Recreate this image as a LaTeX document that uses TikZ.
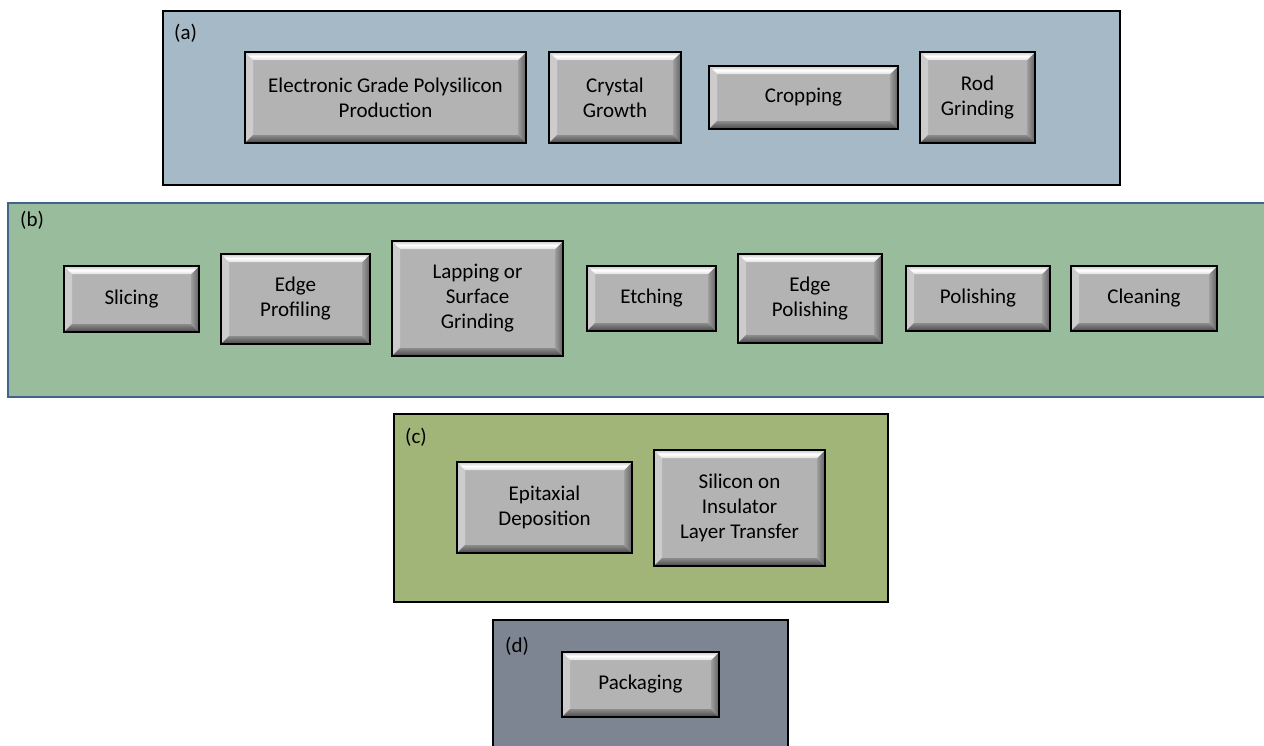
\documentclass[tikz,border=0pt]{standalone}
\usepackage{fontspec}
\setmainfont{Carlito}
\usetikzlibrary{calc}
\definecolor{boxA}{HTML}{A6B9C6}
\definecolor{boxB}{HTML}{99BD9C}
\definecolor{boxC}{HTML}{A1B579}
\definecolor{boxD}{HTML}{7C8591}
\definecolor{bordB}{HTML}{41648F}
\definecolor{btnface}{HTML}{B3B3B3}
\newcommand{\bv}{8}
\tikzset{
  panel/.style={draw=black, line width=2pt},
  plabel/.style={anchor=west, inner sep=0pt, font=\fontsize{21}{25}\selectfont},
  btn/.style={draw=black, line width=2.6pt, fill=btnface, align=center, inner sep=0pt,
    font=\fontsize{21}{25}\selectfont,
    path picture={
      \coordinate (pNW) at (path picture bounding box.north west);
      \coordinate (pNE) at (path picture bounding box.north east);
      \coordinate (pSW) at (path picture bounding box.south west);
      \coordinate (pSE) at (path picture bounding box.south east);
      \coordinate (iNW) at ($(pNW)+(\bv,-\bv)$);
      \coordinate (iNE) at ($(pNE)+(-\bv,-\bv)$);
      \coordinate (iSW) at ($(pSW)+(\bv,\bv)$);
      \coordinate (iSE) at ($(pSE)+(-\bv,\bv)$);
      \fill[black!20] (pNW) -- (iNW) -- (iSW) -- (pSW) -- cycle;
      \fill[left color=black!38, right color=black!62] (pNE) -- (iNE) -- (iSE) -- (pSE) -- cycle;
      \fill[top color=black!45, bottom color=black!72] (pSW) -- (iSW) -- (iSE) -- (pSE) -- cycle;
      \fill[top color=black!22, bottom color=black!12, middle color=white] (pNW) -- (pNE) -- (iNE) -- (iNW) -- cycle;
    }},
}
\begin{document}
\begin{tikzpicture}[x=1pt,y=1pt]
\useasboundingbox (0,0) rectangle (1264,-745);
% panels
\draw[panel, fill=boxA] (163,-11) rectangle (1120,-185);
\draw[fill=boxB, draw=bordB, line width=1.5pt] (8,-203) rectangle (1275,-397);
\draw[panel, fill=boxC] (394,-414) rectangle (888,-602);
\draw[panel, fill=boxD] (493,-620) rectangle (788,-760);
\node[plabel] (la) at (174,-33) {(a)};
\node[plabel] (lb) at (20,-220) {(b)};
\node[plabel] (lc) at (405,-437) {(c)};
\node[plabel] (ld) at (505,-646) {(d)};
% (a)
\node[btn, minimum width=281pt, minimum height=91pt] (a1) at (385.5,-97.5) {Electronic Grade Polysilicon\\Production};
\node[btn, minimum width=132pt, minimum height=91pt] (a2) at (615,-97.5) {Crystal\\Growth};
\node[btn, minimum width=189pt, minimum height=63pt] (a3) at (803.5,-97.5) {Cropping};
\node[btn, minimum width=115pt, minimum height=91pt] (a4) at (977.5,-97.5) {Rod\\Grinding};
% (b)
\node[btn, minimum width=135pt, minimum height=66pt] (b1) at (131.5,-299) {Slicing};
\node[btn, minimum width=149pt, minimum height=90pt] (b2) at (295.5,-299) {Edge\\Profiling};
\node[btn, minimum width=171pt, minimum height=115pt] (b3) at (477.5,-298.5) {Lapping or\\Surface\\Grinding};
\node[btn, minimum width=129pt, minimum height=65pt] (b4) at (651.5,-298.5) {Etching};
\node[btn, minimum width=144pt, minimum height=89pt] (b5) at (810,-298.5) {Edge\\Polishing};
\node[btn, minimum width=144pt, minimum height=65pt] (b6) at (978,-298.5) {Polishing};
\node[btn, minimum width=146pt, minimum height=65pt] (b7) at (1144,-298.5) {Cleaning};
% (c)
\node[btn, minimum width=175pt, minimum height=91pt] (c1) at (544.5,-507.5) {Epitaxial\\Deposition};
\node[btn, minimum width=171pt, minimum height=116pt] (c2) at (739.5,-508) {Silicon on\\Insulator\\Layer Transfer};
% (d)
\node[btn, minimum width=157pt, minimum height=65pt] (d1) at (640.5,-684.5) {Packaging};
\end{tikzpicture}
\end{document}
